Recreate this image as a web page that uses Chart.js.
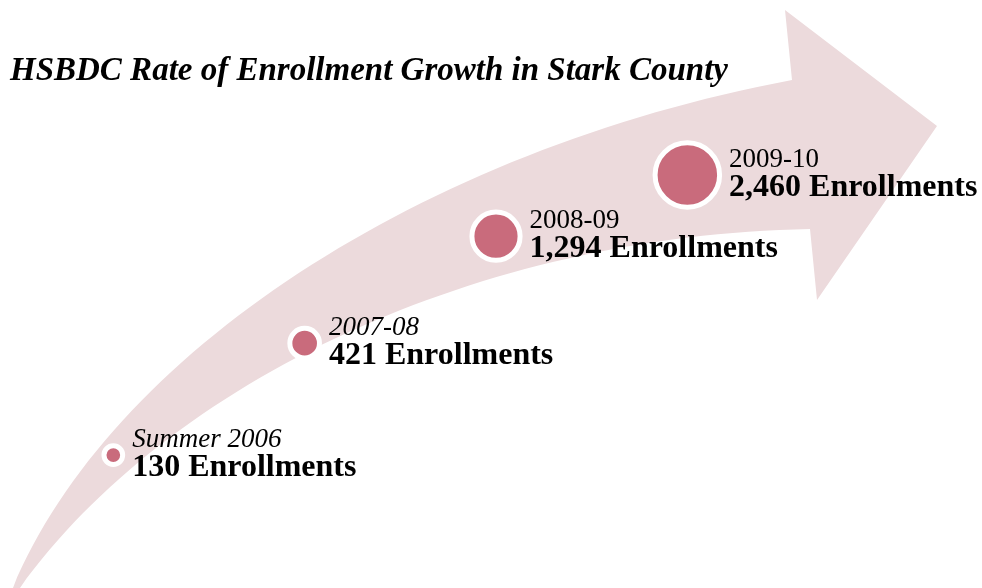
<!DOCTYPE html>
<html><head><meta charset="utf-8">
<script src="https://cdn.jsdelivr.net/npm/chart.js@4.4.1/dist/chart.umd.min.js"></script>
<style>html,body{margin:0;padding:0;background:#fff}#wrap{width:982px;height:588px;position:relative}</style>
</head><body><div id="wrap"><canvas id="c"></canvas></div>
<script>
// ---- data ----
const chartTitle = 'HSBDC Rate of Enrollment Growth in Stark County';
const periods = ['Summer 2006', '2007-08', '2008-09', '2009-10'];
const enrollments = [130, 421, 1294, 2460];
const unitLabel = 'Enrollments';

// ---- styles ----
const periodFontStyle = ['italic', 'italic', 'normal', 'normal'];
const ARROW = '#ecdadc';
const BUBBLE = '#c96b7c';
const RING = 5;

const arrowPlugin = {
  id: 'arrowBg',
  beforeDraw(chart) {
    // decorative curved arrow behind the bubbles (background graphic)
    const ctx = chart.ctx;
    ctx.save();
    ctx.beginPath();
    ctx.moveTo(7, 600);
    ctx.lineTo(13, 588);
    ctx.bezierCurveTo(110, 355, 420, 150, 792, 80);   // outer edge
    ctx.lineTo(785, 10);                               // head top
    ctx.lineTo(937, 126);                              // head tip
    ctx.lineTo(817, 300);                              // head bottom
    ctx.lineTo(810, 229);
    ctx.bezierCurveTo(480, 235, 170, 380, 20, 588);   // inner edge
    ctx.lineTo(11, 600);
    ctx.closePath();
    ctx.fillStyle = ARROW;
    ctx.fill();
    ctx.restore();
  }
};

const labelPlugin = {
  id: 'bubbleLabels',
  afterDatasetsDraw(chart) {
    const ctx = chart.ctx;
    const meta = chart.getDatasetMeta(0);
    ctx.save();
    ctx.fillStyle = '#000';
    ctx.textAlign = 'left';
    ctx.textBaseline = 'alphabetic';
    meta.data.forEach((el, i) => {
      const inner = el.options.radius - RING / 2;
      const x = el.x + inner + 12;
      ctx.font = periodFontStyle[i] + ' normal 27px "Liberation Serif", "Times New Roman", serif';
      ctx.fillText(periods[i], x, el.y - 8);
      ctx.font = 'normal bold 32px "Liberation Serif", "Times New Roman", serif';
      ctx.fillText(enrollments[i].toLocaleString('en-US') + ' ' + unitLabel, x, el.y + 21);
    });
    ctx.restore();
  }
};

new Chart(document.getElementById('c'), {
  type: 'bubble',
  data: {
    labels: periods,
    datasets: [{
      label: unitLabel,
      data: periods.map((p, i) => ({ x: i, y: enrollments[i] })),
      backgroundColor: BUBBLE,
      borderColor: '#ffffff',
      borderWidth: RING,
      radius: ctx => 0.6 * Math.sqrt(ctx.raw.y) + RING / 2
    }]
  },
  options: {
    responsive: true,
    maintainAspectRatio: false,
    animation: false,
    events: [],
    layout: { autoPadding: false, padding: { left: 10, right: 0, top: 0, bottom: 0 } },
    scales: {
      x: { type: 'linear', display: false, min: -0.54, max: 4.54 },
      y: { type: 'logarithmic', display: false, min: 32.2, max: 5906 }
    },
    plugins: {
      legend: { display: false },
      tooltip: { enabled: false },
      title: {
        display: true,
        text: chartTitle,
        align: 'start',
        color: '#000',
        font: { family: '"Liberation Serif", "Times New Roman", serif', size: 33, style: 'italic', weight: 'bold' },
        padding: { top: 52, bottom: 0 }
      }
    }
  },
  plugins: [arrowPlugin, labelPlugin]
});
</script>
</body></html>
